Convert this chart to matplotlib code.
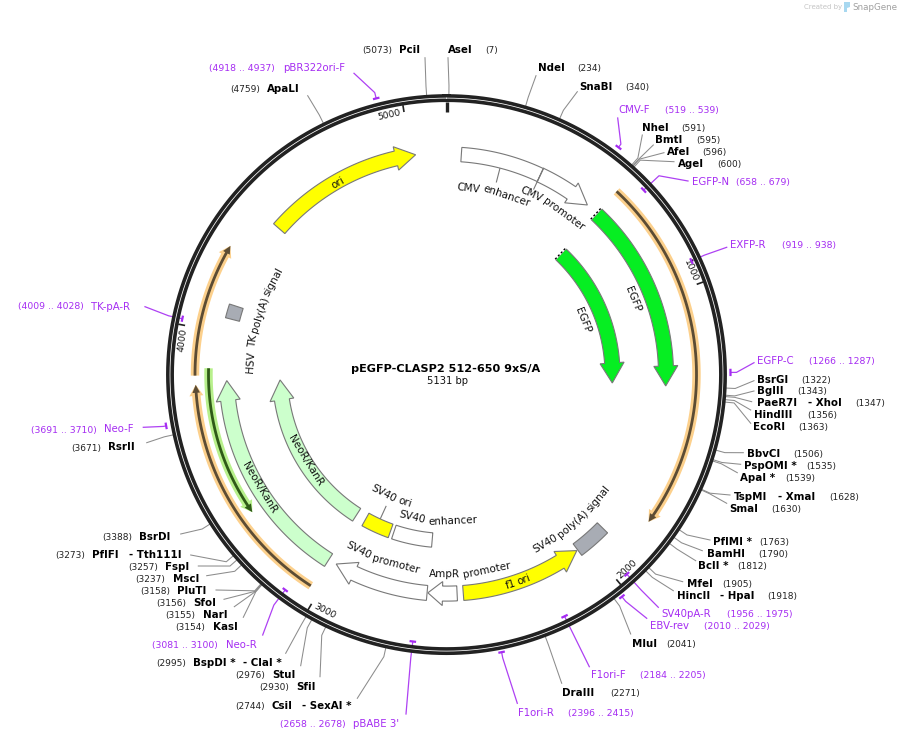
import numpy as np
import matplotlib
matplotlib.use('Agg')
import matplotlib.pyplot as plt
from matplotlib.patches import Polygon
from matplotlib.textpath import TextPath
from matplotlib.font_manager import FontProperties

total_bp = 5131
title = 'pEGFP-CLASP2 512-650 9xS/A'
subtitle = '5131 bp'

# features along the two inner tracks
feat_names = ['CMV enhancer', 'CMV promoter', 'EGFP', 'EGFP', 'SV40 poly(A) signal', 'f1 ori',
              'AmpR promoter', 'SV40 promoter', 'SV40 enhancer', 'SV40 ori', 'NeoR/KanR', 'NeoR/KanR',
              'HSV TK poly(A) signal', 'ori']
feat_start = [55, 359, 614, 620, 1917, 2503, 2526, 2638, 2636, 2846, 3028, 3031, 4054, 4434]
feat_end = [359, 566, 1325, 1324, 2041, 2045, 2635, 2996, 2829, 2982, 3826, 3822, 4105, 5017]
feat_arrow = [False, True, True, True, False, True, True, True, False, False, True, True, False, True]
feat_color = ['white', 'white', '#06ee22', '#06ee22', '#a8acb4', '#ffff00', 'white', 'white', 'white',
              '#ffff00', '#ccffcc', '#ccffcc', '#a8acb4', '#ffff00']
feat_r = [220.5, 220.5, 219.5, 166, 218.6, 219, 219, 219.2, 166, 166, 219.8, 166.5, 221, 222]
# label angle (degrees clockwise from top) and radius
feat_label_ang = [14.8, 32.5, 67.9, 68.2, 138.7, 160.7, 173.2, 198.9, 183, 204.1, 239, 238.5, 287, 330.4]
feat_label_r = [188, 199, 200.8, 147, 195.8, 219.3, 199.4, 196.7, 147, 134.5, 218.8, 165, 196, 220.8]

# thin annotated arcs
thin_start = [611, 3032, 3845, 3870]
thin_end = [1797, 3815, 4287, 3345]
thin_r = [250, 251, 251.5, 238]
thin_halo = ['#fcd08c', '#fcd08c', '#fcd08c', '#b8f08c']
thin_core = ['#5c4c34', '#5c4c34', '#5c4c34', '#2f5a18']

# restriction sites
site_names = ['PciI', 'AseI', 'NdeI', 'SnaBI', 'NheI', 'BmtI', 'AfeI', 'AgeI', 'BsrGI', 'BglII', 'PaeR7I',
              'HindIII', 'EcoRI', 'BbvCI', 'PspOMI *', 'ApaI *', 'TspMI', 'SmaI', 'PflMI *', 'BamHI',
              'BclI *', 'MfeI', 'HincII', 'MluI', 'DraIII', 'CsiI', 'SfiI', 'StuI', 'BspDI *', 'KasI',
              'NarI', 'SfoI', 'PluTI', 'MscI', 'FspI', 'PflFI', 'BsrDI', 'RsrII', 'ApaLI']
site_second = ['', '', '', '', '', '', '', '', '', '', '- XhoI', '', '', '', '', '', '- XmaI', '', '', '',
               '', '', '- HpaI', '', '', '- SexAI *', '', '', '- ClaI *', '', '', '', '', '', '',
               '- Tth111I', '', '', '']
site_bp = [5073, 7, 234, 340, 591, 595, 596, 600, 1322, 1343, 1347, 1356, 1363, 1506, 1535, 1539, 1628, 1630,
           1763, 1790, 1812, 1905, 1918, 2041, 2271, 2744, 2930, 2976, 2995, 3154, 3155, 3156, 3158, 3237,
           3257, 3273, 3388, 3671, 4759]
# name x, y, second x, number x, leader end x, leader end y
site_layout = [(399.3, 50, 0, 362.3, 425, 57.7), (448, 50, 0, 485, 448, 57.7), (538.3, 68.3, 0, 577.3, 536, 75.7),
               (579.3, 86.7, 0, 625.3, 577.3, 91.7), (642.3, 128.3, 0, 681.3, 642.3, 135),
               (655.3, 140.3, 0, 696.7, 653.3, 145), (667, 152.3, 0, 702.3, 664, 152.7),
               (678.3, 164.3, 0, 717.3, 674, 161.7), (757.3, 379.7, 0, 801.3, 754, 380.7),
               (757.3, 391.3, 0, 797.3, 754, 391), (756.7, 403.3, 808.3, 855.3, 751.7, 401.7),
               (754.3, 415.3, 0, 807.3, 750.7, 410), (753.3, 427.3, 0, 798.3, 750.7, 423.3),
               (747.3, 454.3, 0, 793.3, 743.3, 452.7), (744.3, 466.3, 0, 806.3, 740.7, 464.3),
               (740, 478.3, 0, 785.3, 737.3, 472.7), (734.3, 497.3, 778.3, 829.3, 730, 495),
               (729, 509.3, 0, 771.3, 726.7, 503.3), (713.3, 542.3, 0, 759.3, 710, 540),
               (706.7, 554, 0, 758.3, 702.3, 550.7), (698.3, 566, 0, 737.3, 695.7, 560.7),
               (686.7, 584.3, 0, 722.3, 682.7, 581.7), (676.7, 596.3, 720, 767.3, 673.3, 590.7),
               (631.7, 644.3, 0, 666.7, 630.7, 634), (562.3, 693.3, 0, 610.3, 561.7, 683.3),
               (272, 706, 302, 235.3, 357.3, 698.3), (296, 687.3, 0, 259.3, 320, 676.7),
               (272, 675.3, 0, 235.3, 300.7, 665.7), (193.3, 663.3, 243.3, 156.3, 285.7, 653.3),
               (212.7, 627.3, 0, 175.3, 243.3, 617.3), (202.7, 615.3, 0, 165.3, 234.3, 606.7),
               (193.3, 603.3, 0, 156.3, 224, 599.3), (177.3, 591.3, 0, 140.3, 216, 590),
               (172.7, 579.3, 0, 135.3, 206.7, 575.7), (165.3, 567.3, 0, 128.3, 198.3, 566),
               (92.3, 555, 128.7, 55, 190.7, 555), (139.3, 537.3, 0, 102.3, 180.7, 534),
               (108, 447.5, 0, 71, 146.7, 442.7), (267.3, 89.3, 0, 230, 307.7, 95.7)]

# primers
primer_names = ['CMV-F', 'EGFP-N', 'EXFP-R', 'EGFP-C', 'SV40pA-R', 'EBV-rev', 'F1ori-F', 'F1ori-R', "pBABE 3'",
                'Neo-R', 'Neo-F', 'TK-pA-R', 'pBR322ori-F']
primer_start = [519, 658, 919, 1266, 1956, 2010, 2184, 2396, 2658, 3081, 3691, 4009, 4918]
primer_end = [539, 679, 938, 1287, 1975, 2029, 2205, 2415, 2678, 3100, 3710, 4028, 4937]
# tick radius, elbow radius, name x, y, number x, leader end x, leader end y
primer_layout = [(285, 289, 618.3, 110, 665.3, 617.7, 118), (270, 291, 692.3, 182.3, 736, 688, 181),
                 (270, 284, 730.3, 245.3, 781.7, 726.7, 247.3), (284, 290, 757.3, 361.3, 809.3, 754, 362.7),
                 (269, 290, 661.3, 614, 726.7, 658.3, 607.3), (283, 289, 650.3, 626, 703.7, 646.7, 618.3),
                 (269, 282, 591.3, 675, 639.7, 589.3, 666.7), (283, 289, 518.3, 713, 567.7, 517.3, 703.3),
                 (269, 285, 353.3, 724.3, 280.3, 406, 714), (269, 288, 225.7, 645, 152.3, 262.7, 635),
                 (285, 288, 104, 429.5, 31, 143.3, 427.3), (270, 284, 91, 306.5, 18, 145, 306.7),
                 (285, 291, 282.7, 68.3, 209, 354, 73.3)]

ruler_bp = [1000, 2000, 3000, 4000, 5000]

cx, cy = 446.5, 374.6
ring_r = 276.5
DARK = '#222222'
EDGE = '#787878'
PURPLE = '#a52cf2'


def pos(bp, r):
    a = 2 * np.pi * np.asarray(bp, dtype=float) / total_bp
    return cx + r * np.sin(a), cy - r * np.cos(a)


def band(start, end, r, half):
    """closed outline of an arc band"""
    b = np.linspace(start, end, 80)
    x1, y1 = pos(b, r + half)
    x2, y2 = pos(b[::-1], r - half)
    return np.column_stack([np.r_[x1, x2], np.r_[y1, y2]])


def arrow(start, end, r, half, head_half, head_px):
    sign = 1 if end > start else -1
    head_bp = head_px / r / (2 * np.pi) * total_bp
    base = end - sign * head_bp
    b = np.linspace(start, base, 80)
    x1, y1 = pos(b, r + half)
    x2, y2 = pos(b[::-1], r - half)
    hx, hy = pos([base, end, base], [r + head_half, r, r - head_half])
    return np.column_stack([np.r_[x1, hx, x2], np.r_[y1, hy, y2]])


def arc_text(ax, s, ang, r, size=7.5, color='#111111'):
    # one text per word, so that long labels follow the arc
    fp = FontProperties(family='DejaVu Sans', size=size * 100 / 72)
    top = ang < 90 or ang > 270
    total_w = TextPath((0, 0), s, prop=fp).get_extents().width
    sp = TextPath((0, 0), 'a a', prop=fp).get_extents().width - TextPath((0, 0), 'aa', prop=fp).get_extents().width
    pos_w = -total_w / 2
    for word in s.split(' '):
        w = TextPath((0, 0), word, prop=fp).get_extents().width
        d = np.degrees((pos_w + w / 2) / r)
        a = ang + d if top else ang - d
        x, y = pos(a / 360 * total_bp, r)
        rot = -a if top else 180 - a
        ax.text(x, y, word, fontsize=size, color=color, rotation=rot, rotation_mode='anchor',
                ha='center', va='center', zorder=6)
        pos_w += w + sp


fig = plt.figure(figsize=(9.01, 7.41), dpi=100)
ax = fig.add_axes([0, 0, 1, 1])
ax.set_xlim(0, 901)
ax.set_ylim(741, 0)
ax.axis('off')

# backbone ring
xr, yr = pos(np.linspace(0, total_bp, 721), ring_r)
ax.plot(xr, yr, color=DARK, lw=5.7, zorder=3)
ax.plot(xr, yr, color='white', lw=0.55, zorder=3.1)

# ruler
xt, yt = pos([0, 0], [263, 273])
ax.plot(xt, yt, color=DARK, lw=2.4, solid_capstyle='butt', zorder=4)
for b in ruler_bp:
    xt, yt = pos([b, b], [266, 273])
    ax.plot(xt, yt, color=DARK, lw=1.2, solid_capstyle='butt', zorder=4)
    ang = b / total_bp * 360 - 3.2
    tx, ty = pos(ang / 360 * total_bp, 266)
    rot = -ang if (ang < 90 or ang > 270) else 180 - ang
    ax.text(tx, ty, str(b), fontsize=6.6, color='#111111', rotation=rot, rotation_mode='anchor',
            ha='center', va='center')

# features
for i in range(len(feat_names)):
    s, e, r = feat_start[i], feat_end[i], feat_r[i]
    if feat_arrow[i]:
        head = min(20, 0.5 * abs(e - s) / total_bp * 2 * np.pi * r)
        pts = arrow(s, e, r, 7.5, 12, head)
    else:
        pts = band(s, e, r, 7.2)
    ax.add_patch(Polygon(pts, closed=True, facecolor=feat_color[i], edgecolor=EDGE, lw=0.8, zorder=2))
    arc_text(ax, feat_names[i], feat_label_ang[i], feat_label_r[i])

# truncated ends on EGFP
for i in [2, 3]:
    xt, yt = pos([feat_start[i] - 3, feat_start[i] - 3], [feat_r[i] - 7.5, feat_r[i] + 7.5])
    ax.plot(xt, yt, color='white', lw=1.4, zorder=2.4)
    ax.plot(xt, yt, color='black', lw=1.0, ls=(0, (1.5, 1.5)), zorder=2.5)

# small feature leaders
for b, r0, r1 in [(207, 213, 199), (359, 213, 205), (2917, 159, 145)]:
    xt, yt = pos([b, b], [r0, r1])
    ax.plot(xt, yt, color=EDGE, lw=0.8, zorder=1.5)
xt, yt = pos([359, 359], [213, 228])
ax.plot(xt, yt, color=EDGE, lw=0.8, zorder=2.5)

# thin arcs
for i in range(len(thin_start)):
    ax.add_patch(Polygon(arrow(thin_start[i], thin_end[i], thin_r[i], 4.2, 7, 11), closed=True,
                         facecolor=thin_halo[i], edgecolor='none', zorder=2))
    ax.add_patch(Polygon(arrow(thin_start[i], thin_end[i], thin_r[i], 1.4, 3.8, 8), closed=True,
                         facecolor=thin_core[i], edgecolor='none', zorder=2.1))

# restriction sites
for i, name in enumerate(site_names):
    nx, ny, sx, num_x, ex, ey = site_layout[i]
    x0, y0 = pos(site_bp[i], 280)
    x1, y1 = pos(site_bp[i], 289)
    ax.plot([x0, x1, ex], [y0, y1, ey], color='#8c8c8c', lw=0.75, zorder=1)
    ax.text(nx, ny, name, fontsize=7.35, fontweight='bold', color='black', ha='left', va='center')
    if site_second[i]:
        ax.text(sx, ny, site_second[i], fontsize=7.35, fontweight='bold', color='black', ha='left', va='center')
    ax.text(num_x, ny + 0.5, '(%d)' % site_bp[i], fontsize=6.5, color='#222222', ha='left', va='center')

# primers
for i, name in enumerate(primer_names):
    r, er, nx, ny, num_x, ex, ey = primer_layout[i]
    xa, ya = pos(np.linspace(primer_start[i], primer_end[i], 8), r)
    ax.plot(xa, ya, color=PURPLE, lw=1.6, solid_capstyle='butt', zorder=4)
    mid = (primer_start[i] + primer_end[i]) / 2
    x0, y0 = pos(mid, r)
    x1, y1 = pos(mid, er)
    ax.plot([x0, x1, ex], [y0, y1, ey], color=PURPLE, lw=0.9, zorder=1, alpha=0.9)
    ax.text(nx, ny, name, fontsize=7.3, color=PURPLE, ha='left', va='center')
    ax.text(num_x, ny + 0.5, '(%d .. %d)' % (primer_start[i], primer_end[i]), fontsize=6.7, color=PURPLE,
            ha='left', va='center')

# centre title
ax.text(446, 369, title, fontsize=8.1, fontweight='bold', color='black', ha='center', va='center')
ax.text(447.5, 381, subtitle, fontsize=7.2, color='#111111', ha='center', va='center')

# watermark
ax.text(804, 7.5, 'Created by', fontsize=5, color='#c4c4c4', ha='left', va='center')
ax.add_patch(Polygon([(844, 2), (850, 2), (850, 7), (847, 8), (847, 12), (844, 12)], closed=True,
                     facecolor='#a8d8f0', edgecolor='none'))
ax.text(852.5, 7.5, 'SnapGene', fontsize=6.3, color='#a0a0a0', ha='left', va='center')

fig.savefig('out.png', dpi=100)
